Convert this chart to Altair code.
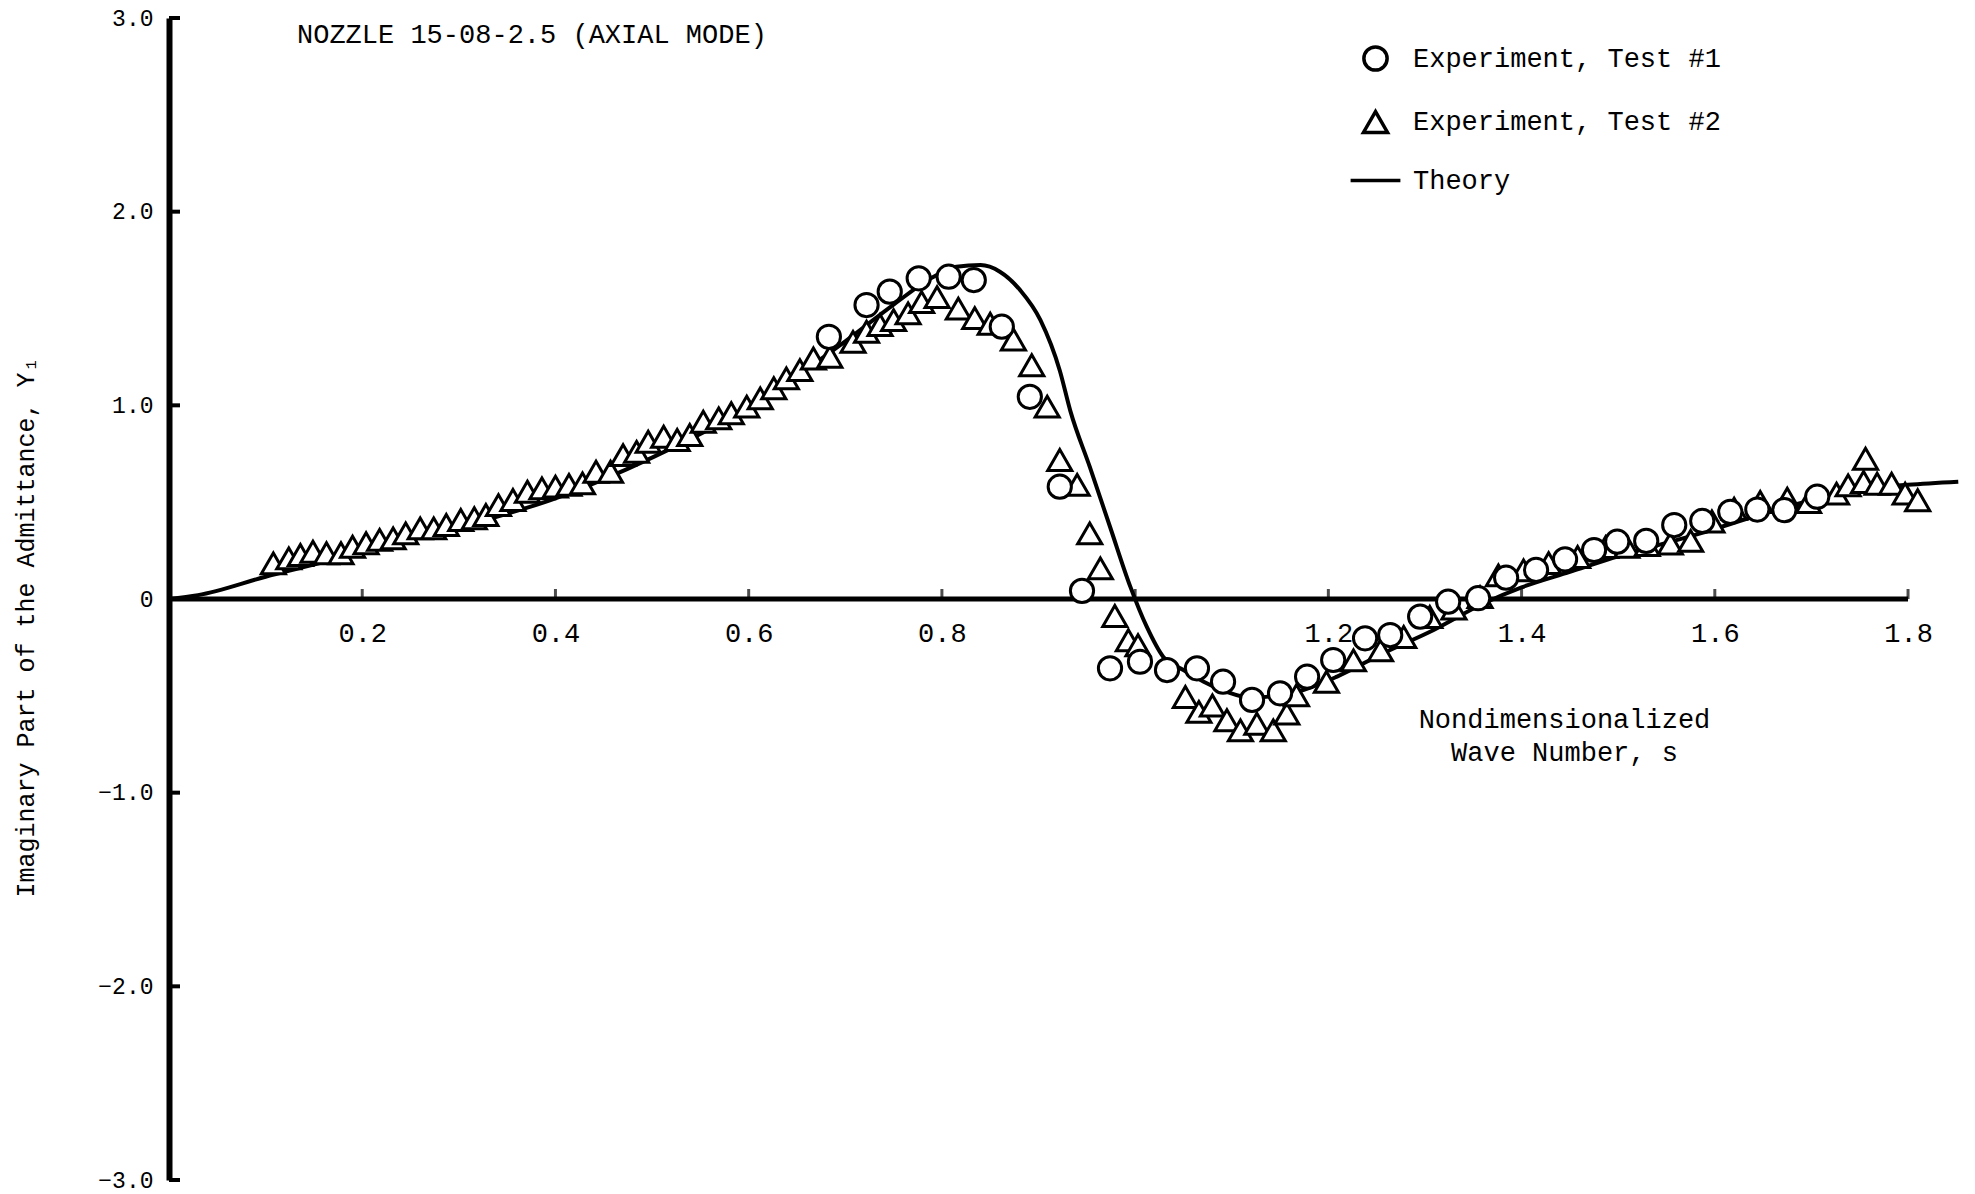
import altair as alt
import pandas as pd

# ---------------- data ----------------
series_names = ["Experiment, Test #1", "Experiment, Test #2", "Theory"]

test1_s = [0.683, 0.722, 0.746, 0.776, 0.807, 0.833, 0.862, 0.891, 0.922, 0.945,
           0.974, 1.005, 1.033, 1.064, 1.091, 1.121, 1.150, 1.178, 1.205, 1.238,
           1.264, 1.295, 1.324, 1.355, 1.384, 1.415, 1.445, 1.475, 1.499, 1.529,
           1.558, 1.587, 1.616, 1.644, 1.672, 1.706]
test1_y = [1.354, 1.518, 1.587, 1.656, 1.664, 1.647, 1.406, 1.044, 0.580, 0.042,
           -0.358, -0.324, -0.367, -0.358, -0.427, -0.521, -0.487, -0.401, -0.315, -0.203,
           -0.186, -0.091, -0.014, 0.004, 0.110, 0.150, 0.205, 0.253, 0.296, 0.300,
           0.382, 0.403, 0.450, 0.462, 0.459, 0.528]

test2_s = [0.108, 0.124, 0.136, 0.149, 0.163, 0.178, 0.190, 0.204, 0.218, 0.232,
           0.245, 0.260, 0.274, 0.287, 0.302, 0.316, 0.328, 0.341, 0.356, 0.371,
           0.386, 0.400, 0.414, 0.428, 0.442, 0.457, 0.470, 0.484, 0.496, 0.512,
           0.526, 0.539, 0.553, 0.569, 0.582, 0.598, 0.612, 0.626, 0.639, 0.653,
           0.667, 0.684, 0.708, 0.722, 0.736, 0.750, 0.765, 0.779, 0.795, 0.817,
           0.834, 0.850, 0.874, 0.893, 0.909, 0.922, 0.940, 0.953, 0.964, 0.979,
           0.993, 1.003, 1.052, 1.066, 1.080, 1.095, 1.109, 1.126, 1.143, 1.157,
           1.167, 1.198, 1.226, 1.254, 1.278, 1.305, 1.330, 1.357, 1.376, 1.402,
           1.428, 1.458, 1.487, 1.509, 1.530, 1.554, 1.575, 1.597, 1.620, 1.647,
           1.675, 1.697, 1.726, 1.738, 1.754, 1.756, 1.768, 1.783, 1.797, 1.810]
test2_y = [0.184, 0.210, 0.227, 0.244, 0.236, 0.236, 0.270, 0.288, 0.305, 0.313,
           0.339, 0.365, 0.365, 0.382, 0.408, 0.417, 0.434, 0.485, 0.511, 0.554,
           0.571, 0.580, 0.589, 0.597, 0.657, 0.657, 0.743, 0.760, 0.812, 0.838,
           0.821, 0.847, 0.915, 0.933, 0.959, 0.993, 1.036, 1.088, 1.139, 1.182,
           1.242, 1.251, 1.328, 1.380, 1.415, 1.440, 1.475, 1.533, 1.559, 1.499,
           1.450, 1.421, 1.340, 1.207, 0.993, 0.718, 0.589, 0.339, 0.158, -0.088,
           -0.213, -0.239, -0.506, -0.583, -0.550, -0.626, -0.678, -0.644, -0.678, -0.592,
           -0.497, -0.428, -0.317, -0.265, -0.196, -0.093, -0.050, 0.010, 0.122, 0.148,
           0.185, 0.217, 0.268, 0.270, 0.279, 0.286, 0.300, 0.400, 0.466, 0.501,
           0.518, 0.501, 0.544, 0.587, 0.604, 0.724, 0.595, 0.595, 0.544, 0.510]

theory_s = [0.0, 0.03, 0.1, 0.2, 0.3, 0.4, 0.5, 0.6, 0.7, 0.75,
            0.79, 0.815, 0.84, 0.86, 0.881, 0.902, 0.922, 0.933, 0.953, 0.974,
            0.995, 1.012, 1.029, 1.050, 1.071, 1.095, 1.12, 1.145, 1.174, 1.209,
            1.257, 1.309, 1.361, 1.40, 1.45, 1.50, 1.585, 1.65, 1.70, 1.757,
            1.80, 1.852]
theory_y = [0.0, 0.02, 0.115, 0.24, 0.37, 0.52, 0.73, 0.99, 1.33, 1.52,
            1.66, 1.716, 1.724, 1.69, 1.595, 1.44, 1.18, 0.97, 0.683, 0.373,
            0.064, -0.143, -0.298, -0.367, -0.427, -0.48, -0.51, -0.50, -0.470, -0.401,
            -0.280, -0.160, -0.022, 0.06, 0.14, 0.22, 0.339, 0.44, 0.51, 0.571,
            0.59, 0.606]

x_tick_values = [0.2, 0.4, 0.6, 0.8, 1.0, 1.2, 1.4, 1.6, 1.8]
x_label_values = [0.2, 0.4, 0.6, 0.8, 1.2, 1.4, 1.6, 1.8]
y_tick_values = [-3, -2, -1, 0, 1, 2, 3]

chart_title = "NOZZLE 15-08-2.5 (AXIAL MODE)"
x_title = ["Nondimensionalized", "Wave Number, s"]
y_title = "Imaginary Part of the Admittance, Y\u2081"

FONT = "Liberation Mono"
W, H = 1797, 1162

# ---------------- tables ----------------
pts = pd.DataFrame({
    "s": test2_s + test1_s,
    "y": test2_y + test1_y,
    "series": [series_names[1]] * len(test2_s) + [series_names[0]] * len(test1_s),
})
theory = pd.DataFrame({"s": theory_s, "y": theory_y})
xaxis_line = pd.DataFrame({"s": [0.0], "s1": [max(x_tick_values)], "y": [0.0]})
xticks = pd.DataFrame({"s": x_tick_values, "y": [0.0] * len(x_tick_values)})
yticks = pd.DataFrame({"y": [v for v in y_tick_values if v != 0]})

xs = alt.Scale(domain=[0, 1.86], nice=False, zero=False)
ys = alt.Scale(domain=[-3, 3], nice=False, zero=False)

x_axis = alt.Axis(
    values=x_label_values, orient="bottom", offset=-(H / 2), domain=False,
    ticks=False, grid=False, format=".1f",
    labelFont=FONT, labelFontSize=27, labelColor="black", labelPadding=21,
    title=x_title, titleFont=FONT, titleFontSize=27, titleFontWeight="normal",
    titleColor="black", titleX=1395, titleY=107, titleAlign="center",
    titleBaseline="top", titleLineHeight=33, labelFlush=False,
)
y_axis = alt.Axis(
    values=y_tick_values, orient="left", domain=True, domainColor="black",
    domainWidth=6, ticks=False, grid=False,
    labelExpr="datum.value == 0 ? '0' : format(datum.value, '.1f')",
    labelFont=FONT, labelFontSize=23, labelColor="black", labelPadding=16,
    title=y_title, titleFont=FONT, titleFontSize=25, titleFontWeight="normal",
    titleColor="black", titleX=-144, titleY=609, titleAngle=-90,
    titleAlign="center", titleBaseline="middle", labelFlush=False,
)

# the theory entry uses a long horizontal stroke as its legend symbol
shape_scale = alt.Scale(domain=series_names,
                        range=["circle", "triangle-up", "M-2,0L2,0"])
size_scale = alt.Scale(domain=series_names, range=[540, 620, 600])

legend = alt.Legend(
    orient="none", legendX=1192, legendY=27, title=None,
    labelFont=FONT, labelFontSize=27, labelColor="black", labelOffset=23,
    labelLimit=0, symbolStrokeWidth=3.5, symbolStrokeColor="black",
    rowPadding=26, padding=0,
)

# legend carrier (draws no marks; its styling defines the legend symbols)
legend_layer = alt.Chart(pts).mark_point(
    filled=False, color="black", strokeWidth=3.5, opacity=1,
).encode(
    x=alt.X("s:Q"), y=alt.Y("y:Q"),
    shape=alt.Shape("series:N", scale=shape_scale, legend=legend),
    size=alt.Size("series:N", scale=size_scale, legend=legend),
).transform_filter("false")

# theory line, carries the axes
line = alt.Chart(theory).mark_line(
    color="black", strokeWidth=4, interpolate="monotone",
).encode(
    x=alt.X("s:Q", scale=xs, axis=x_axis),
    y=alt.Y("y:Q", scale=ys, axis=y_axis),
)

xline = alt.Chart(xaxis_line).mark_rule(color="black", strokeWidth=5).encode(
    x=alt.X("s:Q"), x2="s1:Q", y=alt.Y("y:Q"),
)

xtick_marks = alt.Chart(xticks).mark_tick(
    color="black", thickness=3, size=10, orient="vertical",
).encode(
    x=alt.X("s:Q"), y=alt.Y("y:Q"), yOffset=alt.value(-5),
)

ytick_marks = alt.Chart(yticks).mark_rule(color="black", strokeWidth=4).encode(
    y=alt.Y("y:Q"), x=alt.value(0), x2=alt.value(11),
)

# markers: white fill so that later markers hide earlier ones
points = alt.Chart(pts).mark_point(
    filled=True, fill="white", stroke="black", strokeWidth=3, opacity=1,
).encode(
    x=alt.X("s:Q"), y=alt.Y("y:Q"),
    shape=alt.Shape("series:N", scale=shape_scale, legend=legend),
    size=alt.Size("series:N", scale=size_scale, legend=legend),
)

chart = alt.layer(legend_layer, line, xline, xtick_marks, ytick_marks, points).properties(
    width=W, height=H,
    title=alt.TitleParams(
        text=chart_title, anchor="start", frame="group", orient="top",
        font=FONT, fontSize=27, fontWeight="normal", color="black",
        dx=128, dy=42, offset=0,
    ),
    padding={"left": 169, "top": 18, "right": 9, "bottom": 14},
    autosize=alt.AutoSizeParams(type="none"),
    background="white",
).configure_view(stroke=None)

chart.save("out.html", embed_options={"renderer": "svg", "actions": False})
